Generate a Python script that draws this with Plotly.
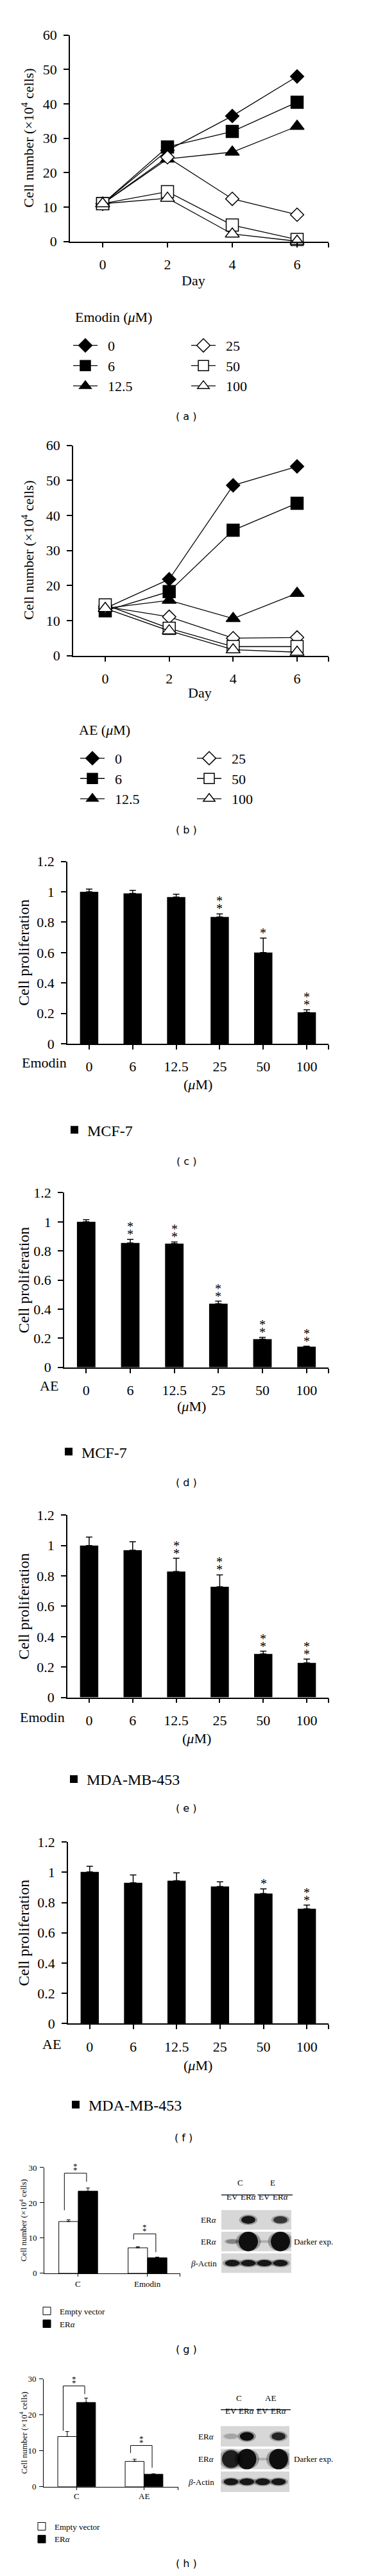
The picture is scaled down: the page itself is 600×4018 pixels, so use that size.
import plotly.graph_objects as go

W, H = 600, 4018
SERIF = "Liberation Serif"
SANS = "DejaVu Sans"

# ---- values ----
DAYS = [0, 2, 4, 6]
DOSES = ["0", "6", "12.5", "25", "50", "100"]
COUNT_TICKS = [0, 10, 20, 30, 40, 50, 60]

# (a) MCF-7 + emodin, cell number (x10^4), one row per dose
EMODIN_COUNTS = [
    [11.0, 26.5, 36.5, 48.0],
    [11.0, 27.5, 32.0, 40.5],
    [11.0, 24.0, 26.0, 33.5],
    [11.0, 24.5, 12.4, 7.8],
    [11.0, 14.5, 4.8, 0.6],
    [11.0, 12.6, 2.2, 0.1],
]
# (b) MCF-7 + AE
AE_COUNTS = [
    [13.5, 21.8, 48.6, 54.0],
    [12.8, 18.3, 35.8, 43.5],
    [13.5, 15.8, 10.6, 17.8],
    [14.0, 11.1, 5.0, 5.2],
    [14.5, 7.8, 2.6, 2.6],
    [13.5, 7.1, 1.7, 1.0],
]

PROLIF_TICKS = [0, 0.2, 0.4, 0.6, 0.8, 1.0, 1.2]
PROLIF_LABELS = ["0", "0.2", "0.4", "0.6", "0.8", "1", "1.2"]

# (c)-(f) relative proliferation, upper error, number of asterisks
MCF7_EMODIN = [1.0, 0.99, 0.966, 0.835, 0.6, 0.207]
MCF7_EMODIN_ERR = [0.018, 0.02, 0.018, 0.02, 0.095, 0.017]
MCF7_EMODIN_SIG = [0, 0, 0, 2, 1, 2]

MCF7_AE = [1.0, 0.855, 0.851, 0.438, 0.194, 0.142]
MCF7_AE_ERR = [0.015, 0.024, 0.011, 0.017, 0.012, 0.003]
MCF7_AE_SIG = [0, 2, 2, 2, 2, 2]

MDA_EMODIN = [1.0, 0.969, 0.829, 0.728, 0.286, 0.227]
MDA_EMODIN_ERR = [0.056, 0.056, 0.087, 0.079, 0.018, 0.025]
MDA_EMODIN_SIG = [0, 0, 2, 2, 2, 2]

MDA_AE = [1.003, 0.93, 0.944, 0.906, 0.86, 0.759]
MDA_AE_ERR = [0.037, 0.052, 0.052, 0.031, 0.03, 0.024]
MDA_AE_SIG = [0, 0, 0, 0, 1, 2]

# (g)/(h) cell number with empty vector / ER-alpha
SMALL_TICKS = [0, 10, 20, 30]
GROUPS_G = ["C", "Emodin"]
EV_G = [14.7, 7.25]
EV_G_ERR = [0.5, 0.3]
ERA_G = [23.3, 4.4]
ERA_G_ERR = [0.9, 0.2]
BRACKET_G = [[17.9, 28.4, 26.0], [9.6, 11.2, 6.0]]   # left foot, top, right foot

GROUPS_H = ["C", "AE"]
EV_H = [14.0, 7.06]
EV_H_ERR = [1.4, 0.6]
ERA_H = [23.5, 3.5]
ERA_H_ERR = [1.2, 0.1]
BRACKET_H = [[15.6, 28.1, 25.8], [9.4, 11.5, 5.3]]

# western blots: band intensity, rows x lanes
BLOT_ROWS = ["ER<i>α</i>", "ER<i>α</i>", "<i>β</i>-Actin"]
BLOT_LANES = ["EV", "ER<i>α</i>", "EV", "ER<i>α</i>"]
BLOT_G = [[0.0, 0.95, 0.0, 0.75],
          [0.35, 1.0, 0.15, 1.0],
          [0.95, 0.95, 0.95, 0.95]]
BLOT_H = [[0.2, 1.0, 0.0, 0.85],
          [0.9, 1.0, 0.15, 1.0],
          [0.95, 0.95, 0.95, 0.95]]

# ---- helpers ----
def ref(n, a):
    return a if n == 1 else f"{a}{n}"


def key(n, a):
    return f"{a}axis" if n == 1 else f"{a}axis{n}"


def note(px, py, text, size=22, family=SERIF, xanchor="center", yanchor="middle", angle=0):
    return dict(x=px / W, y=1 - py / H, xref="paper", yref="paper", text=text,
                showarrow=False, textangle=angle, xanchor=xanchor, yanchor=yanchor,
                font=dict(family=family, size=size, color="black"))


layout = dict(width=W, height=H, margin=dict(l=0, r=0, t=0, b=0), autosize=False,
              paper_bgcolor="white", plot_bgcolor="white", showlegend=True,
              barmode="overlay", hovermode=False)
annotations = []
shapes = []
fig = go.Figure()


def set_axes(n, box, xr, yr, xtv, xtt, ytv, ytt, small=False):
    x0, x1, yt, yb = box
    fs = 13 if small else 22
    lw = 1.0 if small else 1.6
    common = dict(showline=True, linecolor="black", linewidth=lw, ticks="outside",
                  tickcolor="black", tickwidth=lw, showgrid=False, zeroline=False,
                  tickfont=dict(family=SERIF, size=fs, color="black"),
                  fixedrange=True, tickmode="array")
    layout[key(n, "x")] = dict(common, domain=[x0 / W, x1 / W], anchor=ref(n, "y"),
                               range=xr, tickvals=xtv, ticktext=xtt,
                               ticklen=4 if small else 7,
                               ticklabelstandoff=4 if small else 8)
    layout[key(n, "y")] = dict(common, domain=[1 - yb / H, 1 - yt / H], anchor=ref(n, "x"),
                               range=yr, tickvals=ytv, ticktext=ytt,
                               ticklen=6 if small else 8,
                               ticklabelstandoff=2 if small else 6)


def legend_box(px, py, size, itemwidth=30):
    return dict(x=px / W, y=1 - py / H, xanchor="left", yanchor="top",
                bgcolor="rgba(0,0,0,0)", borderwidth=0, tracegroupgap=0,
                itemwidth=itemwidth, traceorder="normal",
                font=dict(family=SERIF, size=size, color="black"))


# ---- (a) and (b): growth curves ----
SYMBOLS = ["diamond", "square", "triangle-up", "diamond", "square", "triangle-up"]
SIZES = [16, 19, 19, 16, 19, 19]
GAP = "\u00a0\u00a0"

line_panels = [
    (1, EMODIN_COUNTS, (101, 504, 35, 359), 152, 50.5, "legend", "legend2",
     (101, 501), (285, 501), "Emodin (<i>μ</i>M)", (107, 477), 420, 293, 633),
    (2, AE_COUNTS, (106, 504, 679, 1009), 156, 49.83, "legend3", "legend4",
     (112, 1149), (294, 1149), "AE (<i>μ</i>M)", (113, 1125), 1067, 303, 1282),
]
for (n, counts, box, x0px, ppd, lg1, lg2, lpos1, lpos2, ltitle, tpos,
     day_y, day_x, lab_y) in line_panels:
    xr = [(box[0] - x0px) / ppd, (box[1] - x0px) / ppd]
    set_axes(n, box, xr, [0, 60], DAYS + [xr[1] - 1e-3], [str(d) for d in DAYS] + [""],
             COUNT_TICKS, [str(t) for t in COUNT_TICKS])
    for i, (dose, vals) in enumerate(zip(DOSES, counts)):
        fig.add_trace(go.Scatter(
            x=DAYS, y=vals, mode="lines+markers", name=GAP + dose,
            line=dict(color="black", width=1.3),
            marker=dict(symbol=SYMBOLS[i], size=SIZES[i],
                        color="black" if i < 3 else "white",
                        line=dict(color="black", width=1.5)),
            xaxis=ref(n, "x"), yaxis=ref(n, "y"), cliponaxis=False,
            legend=lg1 if i < 3 else lg2,
        ))
    layout[lg1] = legend_box(*lpos1, 22, itemwidth=38)
    layout[lg2] = legend_box(*lpos2, 22, itemwidth=38)
    cy = (box[2] + box[3]) / 2
    annotations.append(note(35, cy, "Cell number (×10<sup>4</sup> cells)", angle=-90))
    annotations.append(note(day_x, day_y, "Day"))
    annotations.append(note(tpos[0], tpos[1], ltitle, xanchor="left"))
    annotations.append(note(282, lab_y, "( " + "ab"[n - 1] + " )", size=16, family=SANS))

# ---- (c)-(f): proliferation bars ----
bar_panels = [
    (3, MCF7_EMODIN, MCF7_EMODIN_ERR, MCF7_EMODIN_SIG, (97, 504, 1332, 1618),
     "Emodin", (61, 1648), (300, 1682), "MCF-7", "legend5", (88, 1731), "c", 1803, 282),
    (4, MCF7_AE, MCF7_AE_ERR, MCF7_AE_SIG, (92, 504, 1852, 2126),
     "AE", (68, 2155), (290, 2187), "MCF-7", "legend6", (79, 2236), "d", 2307, 282),
    (5, MDA_EMODIN, MDA_EMODIN_ERR, MDA_EMODIN_SIG, (97, 504, 2358, 2644),
     "Emodin", (58, 2675), (298, 2708), "MDA-MB-453", "legend7", (87, 2750), "e", 2818, 282),
    (6, MDA_AE, MDA_AE_ERR, MDA_AE_SIG, (98, 504, 2871, 3156),
     "AE", (72, 3188), (300, 3222), "MDA-MB-453", "legend8", (90, 3261), "f", 3335, 278),
]
for (n, vals, errs, sig, box, drug, dpos, upos, cell, lg, lpos, lab, lab_y, lab_x) in bar_panels:
    idx = list(range(len(DOSES)))
    set_axes(n, box, [-0.5, 5.5], [0, 1.2], idx + [5.499], DOSES + [""],
             PROLIF_TICKS, PROLIF_LABELS)
    fig.add_trace(go.Bar(
        x=idx, y=vals, width=0.42, name=cell,
        marker=dict(color="black", line=dict(width=0)),
        error_y=dict(type="data", symmetric=False, array=errs, arrayminus=[0] * len(vals),
                     color="black", thickness=1.5, width=5),
        xaxis=ref(n, "x"), yaxis=ref(n, "y"), legend=lg,
    ))
    layout[lg] = legend_box(*lpos, 24)
    for i, k in enumerate(sig):
        for s in range(k):
            annotations.append(dict(x=i, y=vals[i] + errs[i], xref=ref(n, "x"), yref=ref(n, "y"),
                                    text="*", showarrow=False, yanchor="middle",
                                    yshift=8 + 12 * s,
                                    font=dict(family=SERIF, size=20, color="black")))
    cy = (box[2] + box[3]) / 2
    annotations.append(note(29, cy, "Cell proliferation", size=24, angle=-90))
    annotations.append(note(dpos[0], dpos[1], drug))
    annotations.append(note(upos[0], upos[1], "(<i>μ</i>M)"))
    annotations.append(note(lab_x, lab_y, "( " + lab + " )", size=16, family=SANS))

# ---- (g)/(h): ER-alpha rescue bars + blots ----
small_panels = [
    (7, GROUPS_G, EV_G, EV_G_ERR, ERA_G, ERA_G_ERR, BRACKET_G, (61, 273, 3382, 3548), 108,
     "legend9", (45, 3592), "g", 3667, 3565,
     9, BLOT_G, (337, 446, 3447, 3549), 25.0, (354 - 337) / 25.0, ["C", "E"], 3415, 3425, 3437, 332),
    (8, GROUPS_H, EV_H, EV_H_ERR, ERA_H, ERA_H_ERR, BRACKET_H, (60, 270, 3714, 3883), 105,
     "legend10", (37, 3930), "h", 4003, 3898,
     10, BLOT_H, (336, 443, 3786, 3893), 24.7, (352 - 336) / 24.7, ["C", "AE"], 3753, 3762, 3773, 328),
]
BW = 0.28
for (n, groups, ev, ev_err, era, era_err, brackets, box, gpx, lg, lpos, lab, lab_y, cat_y,
     bn, blot, bbox, lane_px, lane0, heads, head_y, hline_y, lane_y, rowlab_x) in small_panels:
    xr = [-0.49, (box[1] - box[0]) / gpx - 0.49]
    set_axes(n, box, xr, [0, 30], [0, 1, xr[1] - 1e-3], groups + [""],
             SMALL_TICKS, [str(t) for t in SMALL_TICKS], small=True)
    layout[key(n, "x")]["showticklabels"] = False
    fig.add_trace(go.Bar(
        x=[0, 1], y=ev, width=BW, offset=-BW, name="Empty vector",
        marker=dict(color="white", line=dict(color="black", width=1.0)),
        error_y=dict(type="data", symmetric=False, array=ev_err, arrayminus=[0, 0],
                     color="black", thickness=1.0, width=3),
        xaxis=ref(n, "x"), yaxis=ref(n, "y"), legend=lg,
    ))
    fig.add_trace(go.Bar(
        x=[0, 1], y=era, width=BW, offset=0, name="ER<i>α</i>",
        marker=dict(color="black", line=dict(color="black", width=1.0)),
        error_y=dict(type="data", symmetric=False, array=era_err, arrayminus=[0, 0],
                     color="black", thickness=1.0, width=3),
        xaxis=ref(n, "x"), yaxis=ref(n, "y"), legend=lg,
    ))
    for gi, (lb, top, rb) in enumerate(brackets):
        xl, xrt = gi - 0.2, gi + 0.12
        fig.add_trace(go.Scatter(
            x=[xl, xl, xrt, xrt], y=[lb, top, top, rb], mode="lines",
            line=dict(color="black", width=1.0), showlegend=False,
            xaxis=ref(n, "x"), yaxis=ref(n, "y"), cliponaxis=False,
        ))
        for s in range(2):
            annotations.append(dict(x=(xl + xrt) / 2, y=top, xref=ref(n, "x"), yref=ref(n, "y"),
                                    text="*", showarrow=False, yanchor="middle",
                                    yshift=5 + 6 * s,
                                    font=dict(family=SERIF, size=13, color="black")))
    layout[lg] = legend_box(*lpos, 13)
    for gi, gname in enumerate(groups):
        annotations.append(dict(x=gi, y=1 - cat_y / H, xref=ref(n, "x"), yref="paper",
                                text=gname, showarrow=False, yanchor="middle",
                                font=dict(family=SERIF, size=13, color="black")))
    cy = (box[2] + box[3]) / 2
    annotations.append(note(28, cy, "Cell number (×10<sup>4</sup> cells)", size=13, angle=-90))
    annotations.append(note(282, lab_y, "( " + lab + " )", size=16, family=SANS))

    # blot
    bx0, bx1, byt, byb = bbox
    bxr = [-lane0, (bx1 - bx0) / lane_px - lane0]
    layout[key(bn, "x")] = dict(domain=[bx0 / W, bx1 / W], range=bxr, visible=False,
                                anchor=ref(bn, "y"), fixedrange=True)
    layout[key(bn, "y")] = dict(domain=[1 - byb / H, 1 - byt / H], range=[2.5, -0.5],
                                visible=False, anchor=ref(bn, "x"), fixedrange=True)
    for r, row in enumerate(blot):
        shapes.append(dict(type="rect", xref=ref(bn, "x"), yref=ref(bn, "y"),
                           x0=bxr[0], x1=bxr[1], y0=r - 0.45, y1=r + 0.45,
                           fillcolor="#d7d7d7", line=dict(width=0), layer="below"))
        for ln, inten in enumerate(row):
            if inten <= 0:
                continue
            if r == 1:
                hw = 0.3 + 0.3 * inten
                hh = 0.05 + 0.42 * inten ** 2
            elif r == 0:
                hw = 0.44
                hh = 0.19 * (0.5 + 0.5 * inten)
            else:
                hw = 0.46
                hh = 0.15
            for scale, alpha in ((1.3, 0.3), (1.0, 0.9)):
                shapes.append(dict(type="circle", xref=ref(bn, "x"), yref=ref(bn, "y"),
                                   x0=ln - hw * scale, x1=ln + hw * scale,
                                   y0=r - min(hh * scale, 0.45), y1=r + min(hh * scale, 0.45),
                                   fillcolor=f"rgba(0,0,0,{alpha * inten:.2f})",
                                   line=dict(width=0)))
        annotations.append(dict(x=rowlab_x / W, y=r, xref="paper", yref=ref(bn, "y"),
                                text=BLOT_ROWS[r], showarrow=False, xanchor="right",
                                font=dict(family=SERIF, size=13, color="black")))
    for ln, lname in enumerate(BLOT_LANES):
        annotations.append(dict(x=ln, y=1 - lane_y / H, xref=ref(bn, "x"), yref="paper",
                                text=lname, showarrow=False,
                                font=dict(family=SERIF, size=13, color="black")))
    for hi, hname in enumerate(heads):
        annotations.append(dict(x=2 * hi + 0.5, y=1 - head_y / H, xref=ref(bn, "x"), yref="paper",
                                text=hname, showarrow=False,
                                font=dict(family=SERIF, size=13, color="black")))
    mid = (bx0 + bx1) / 2
    for a, b in ((bx0, mid - 2), (mid + 2, bx1 + 2)):
        shapes.append(dict(type="line", xref="paper", yref="paper", x0=a / W, x1=b / W,
                           y0=1 - hline_y / H, y1=1 - hline_y / H,
                           line=dict(color="black", width=1.2)))
    annotations.append(dict(x=448 / W, y=1, xref="paper", yref=ref(bn, "y"),
                            text="Darker exp.", showarrow=False, xanchor="left",
                            font=dict(family=SERIF, size=13, color="black")))

layout["annotations"] = annotations
layout["shapes"] = shapes
fig.update_layout(**layout)
fig.write_html("out.html")
